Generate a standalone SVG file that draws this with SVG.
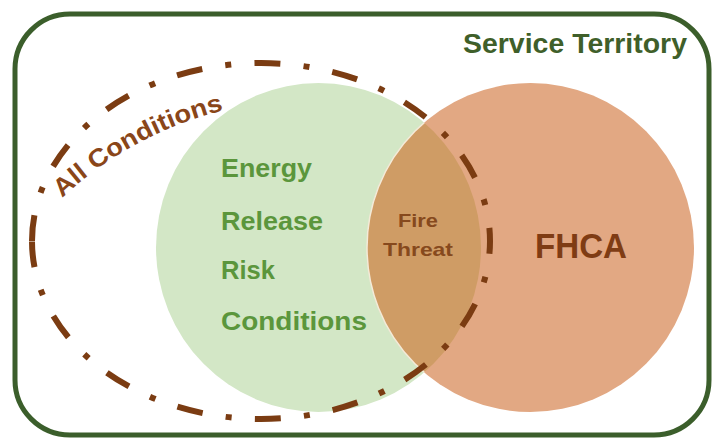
<svg xmlns="http://www.w3.org/2000/svg" width="714" height="439" viewBox="0 0 714 439">
  <style>
    .lbl { font-family: "Liberation Sans", Arial, sans-serif; font-weight: bold; }
    .green { fill: #5b963c; }
    .brown { fill: #7f3c14; }
  </style>
  <defs>
    <clipPath id="clipGreen">
      <ellipse cx="318.5" cy="247.5" rx="162.5" ry="164.5"/>
    </clipPath>
    <path id="arcText" d="M 62 198 A 364 364 0 0 1 225 110"/>
  </defs>
  <rect x="0" y="0" width="714" height="439" fill="#ffffff"/>

  <g id="service-territory">
    <rect x="15" y="14" width="694" height="421" rx="55" ry="55" fill="none" stroke="#3b5e2b" stroke-width="5"/>
    <text class="lbl" x="463" y="53" font-size="28" fill="#3f5f2a" textLength="224" lengthAdjust="spacingAndGlyphs">Service Territory</text>
  </g>

  <g id="energy-release-risk-conditions">
    <ellipse cx="318.5" cy="247.5" rx="162.5" ry="164.5" fill="#d3e7c6"/>
  </g>

  <g id="fhca">
    <ellipse cx="530.5" cy="247.5" rx="163.5" ry="164.5" fill="#e2a883"/>
  </g>

  <g id="fire-threat">
    <ellipse cx="530.5" cy="247.5" rx="163.5" ry="164.5" fill="#cf9c65" clip-path="url(#clipGreen)"/>
    <ellipse cx="530.5" cy="247.5" rx="163.5" ry="164.5" fill="none" stroke="#f4ead8" stroke-width="1.5" clip-path="url(#clipGreen)"/>
  </g>

  <g id="labels-erc">
    <text class="lbl green" x="221" y="177" font-size="25" textLength="91" lengthAdjust="spacingAndGlyphs">Energy</text>
    <text class="lbl green" x="221" y="230" font-size="25" textLength="102" lengthAdjust="spacingAndGlyphs">Release</text>
    <text class="lbl green" x="221" y="279" font-size="25" textLength="54" lengthAdjust="spacingAndGlyphs">Risk</text>
    <text class="lbl green" x="221" y="330" font-size="25" textLength="146" lengthAdjust="spacingAndGlyphs">Conditions</text>
  </g>

  <g id="labels-fire">
    <text class="lbl" x="398" y="227" font-size="19" fill="#86491d" textLength="40" lengthAdjust="spacingAndGlyphs">Fire</text>
    <text class="lbl" x="383" y="256" font-size="19" fill="#86491d" textLength="70" lengthAdjust="spacingAndGlyphs">Threat</text>
  </g>

  <g id="label-fhca">
    <text class="lbl brown" x="535" y="258" font-size="35" textLength="92" lengthAdjust="spacingAndGlyphs">FHCA</text>
  </g>

  <g id="all-conditions">
    <path d="M 32 241 A 229 178 0 1 1 490 241 A 229 178 0 1 1 32 241" pathLength="1284" fill="none" stroke="#7b3c12" stroke-width="6" stroke-dasharray="26 23.3 6 23.3"/>
    <text class="lbl" font-size="25" fill="#8a4619"><textPath href="#arcText" textLength="186" lengthAdjust="spacingAndGlyphs">All Conditions</textPath></text>
  </g>
</svg>
